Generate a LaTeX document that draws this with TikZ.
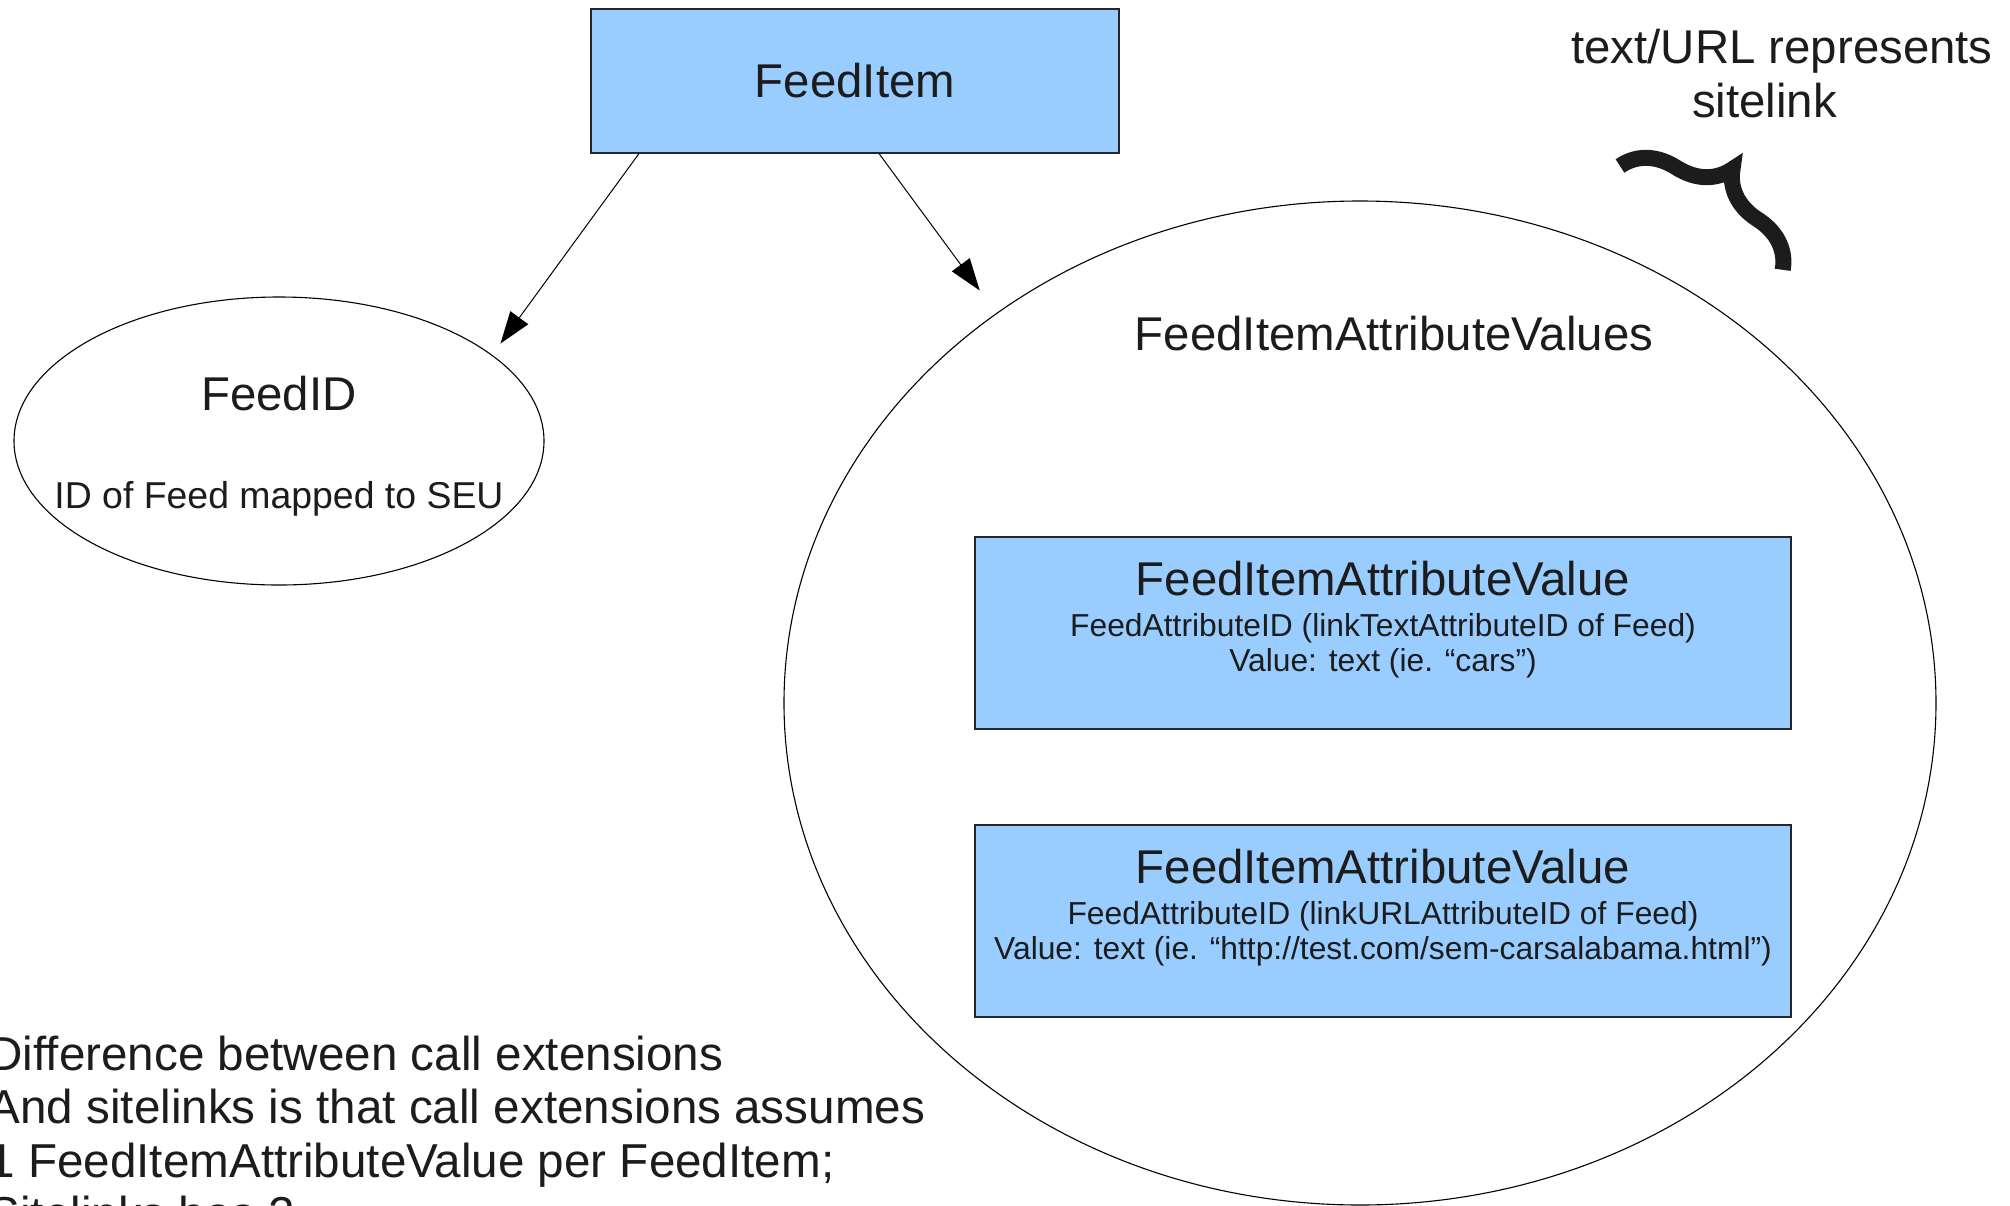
\documentclass[tikz,border=0pt]{standalone}
\usepackage{fontspec}
\setmainfont{Liberation Sans}
\usepackage{tikz}
\usetikzlibrary{shapes.geometric}
\usetikzlibrary{arrows.meta}
\usetikzlibrary{decorations.pathreplacing}
\definecolor{boxblue}{HTML}{99CCFF}
\definecolor{inkgray}{HTML}{1C1C1C}
\newcommand{\sizeL}{\fontsize{23.7pt}{26.75pt}\selectfont}
\newcommand{\sizeM}{\fontsize{18.7pt}{21.5pt}\selectfont}
\newcommand{\sizeS}{\fontsize{15.9pt}{17.5pt}\selectfont}
\tikzset{
every picture/.style={line width=0.55pt,
                       >={Triangle[length=16pt,width=11pt]}},
%%%%%%%%%%  Node styles
entity/.style={draw=black!85, fill=boxblue, inner sep=0pt,
               minimum width=264pt, minimum height=72pt,
               text=inkgray, font=\sizeL},
valuebox/.style={draw=black!85, fill=boxblue, inner sep=0pt,
                 minimum width=408pt, minimum height=96pt},
oval/.style={ellipse, draw=black, inner sep=0pt},
heading/.style={inner sep=0pt, anchor=base, text=inkgray, font=\sizeL},
detail/.style={inner sep=0pt, anchor=north, align=center,
               text=inkgray, font=\sizeS},
%%%% line styles
link/.style={->, line width=0.5pt},
curly/.style={decorate, decoration={brace, amplitude=29pt},
              line width=8pt, draw=inkgray}
}

\begin{document}
\begin{tikzpicture}[x=0.5pt, y=-0.5pt]
\useasboundingbox (0,0) rectangle (2010,1206);
\clip (0,0) rectangle (2010,1206);
\node[entity] (item) at (855,81) {FeedItem};
\node[oval, minimum width=265pt, minimum height=144pt] (feedid) at (279,441) {};
\node[heading] (feedidname) at (279,410) {FeedID};
\node[heading, font=\sizeM] (feedidnote) at (279,508) {ID of Feed mapped to SEU};
\node[oval, minimum width=576pt, minimum height=502pt] (attrs) at (1360,703) {};
\node[heading] (attrsname) at (1394,350) {FeedItemAttributeValues};
%%%% the two values
\node[valuebox] (val1) at (1383,633) {};
\node[valuebox] (val2) at (1383,921) {};
\node[heading] (val1name) at ([yshift=-29.5pt]val1.north) {FeedItemAttributeValue};
\node[detail] (val1text) at ([yshift=-38pt]val1.north)
  {FeedAttributeID (linkTextAttributeID of Feed)\\Value: text (ie. “cars”)};
\node[heading] (val2name) at ([yshift=-29.5pt]val2.north) {FeedItemAttributeValue};
\node[detail] (val2text) at ([yshift=-38pt]val2.north)
  {FeedAttributeID (linkURLAttributeID of Feed)\\Value: text (ie. “http://test.com/sem-carsalabama.html”)};
\draw[link, shorten >=7pt] ([xshift=-108pt]item.south) -- (feedid.22.7);
\draw[link, shorten >=14pt] ([xshift=12pt]item.south) -- (attrs.133.9);
%%%% note with brace
\node[heading, anchor=north, align=center] (note) at (1782,29)
  {text/URL represents\\sitelink\hspace*{17.5pt}};
\coordinate (bracetop) at (1620,166);
\coordinate (bracebottom) at (1783,270);
\draw[curly] (bracetop) -- (bracebottom);
\node[inner sep=0pt, anchor=north west, align=left, text=inkgray,
      font=\fontsize{23.8pt}{26.75pt}\selectfont]
  (remark) at (-12,1035) {Difference between call extensions\\And sitelinks is that call extensions assumes\\1 FeedItemAttributeValue per FeedItem;\\Sitelinks has 2};
\end{tikzpicture}
\end{document}
